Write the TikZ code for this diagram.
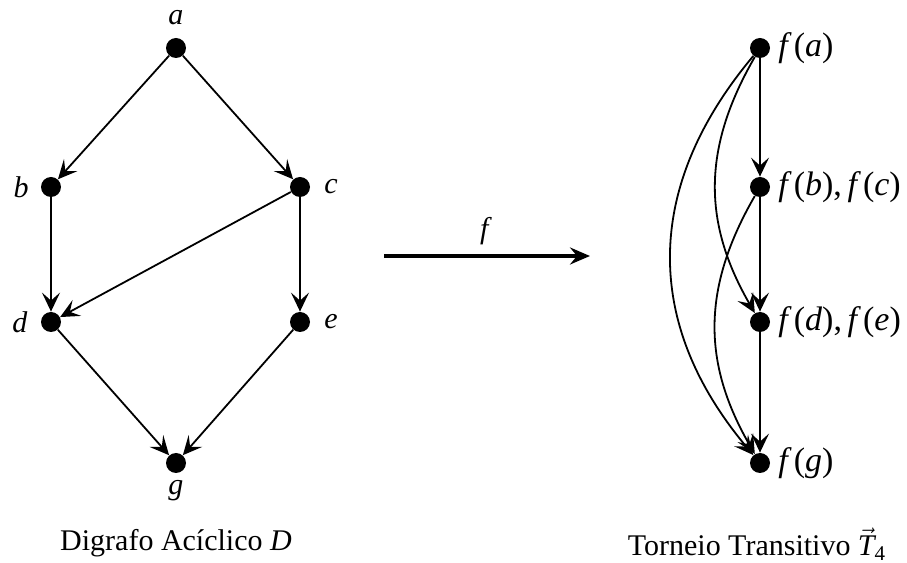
\documentclass[tikz,border=0pt]{standalone}
\usepackage{amsmath}
\usepackage{fontspec}
\setmainfont{Liberation Serif}
\usetikzlibrary{arrows.meta}
\newcommand{\fof}[1]{\textit{f}\kern0.06em(\textit{#1})}
\begin{document}
\begin{tikzpicture}[x=0.5pt,y=0.5pt,
  dot/.style={circle,fill=black,inner sep=0pt,minimum size=10pt},
  lab/.style={font=\fontsize{15}{18}\selectfont,inner sep=0pt},
  rlab/.style={font=\fontsize{17}{20}\selectfont,inner sep=0pt,anchor=west},
  edge/.style={-{Stealth[length=9.5pt,width=9pt,inset=4pt]},line width=0.9pt},
  maparrow/.style={-{Stealth[length=10pt,width=8.5pt,inset=3.5pt]},line width=1.6pt}]
\useasboundingbox (0,0) rectangle (907,563);
% left digraph
\node[dot] (a) at (176,515) {};
\node[dot] (b) at (51,376) {};
\node[dot] (c) at (300,376) {};
\node[dot] (d) at (51,241) {};
\node[dot] (e) at (300,241) {};
\node[dot] (g) at (176,100) {};
\node[lab] (la) at (176,545) {\textit{a}};
\node[lab] (lb) at (21,376) {\textit{b}};
\node[lab] (lc) at (331,376) {\textit{c}};
\node[lab] (ld) at (20,241) {\textit{d}};
\node[lab] (le) at (331,241) {\textit{e}};
\node[lab] (lg) at (176,72) {\textit{g}};
\draw[edge] (a) -- (b);
\draw[edge] (a) -- (c);
\draw[edge] (b) -- (d);
\draw[edge] (c) -- (d);
\draw[edge] (c) -- (e);
\draw[edge] (d) -- (g);
\draw[edge] (e) -- (g);
\node[lab] (capl) at (176,20) {Digrafo Acíclico \textit{D}};
% map arrow
\coordinate (fs) at (384,307);
\coordinate (ft) at (590,307);
\draw[maparrow] (fs) -- (ft);
\node[lab] (fl) at (486,332) {\textit{f}};
% right tournament
\node[dot] (A) at (760,515) {};
\node[dot] (B) at (760,376) {};
\node[dot] (D) at (760,241) {};
\node[dot] (G) at (760,100) {};
\node[rlab] (lA) at (778,515) {\fof{a}};
\node[rlab] (lB) at (778,376) {\fof{b},\,\fof{c}};
\node[rlab] (lD) at (778,241) {\fof{d},\,\fof{e}};
\node[rlab] (lG) at (778,100) {\fof{g}};
\draw[edge] (A) -- (B);
\draw[edge] (B) -- (D);
\draw[edge] (D) -- (G);
\draw[edge] (A) to[out=240,in=120,looseness=1.05] (D);
\draw[edge] (A) to[out=230,in=130,looseness=1.1] (G);
\draw[edge] (B) to[out=240,in=120,looseness=1.05] (G);
\node[lab] (capr) at (757,19) {Torneio Transitivo $\vec{\textit{T}}_{\text{4}}$};
\end{tikzpicture}
\end{document}
